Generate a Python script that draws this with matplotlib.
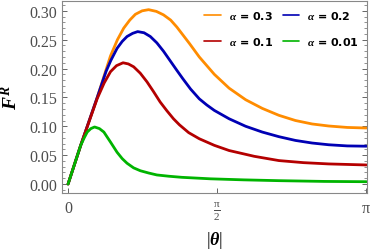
import numpy as np
import matplotlib
matplotlib.use("Agg")
import matplotlib.pyplot as plt
import matplotlib.ticker as mticker

plt.rcParams['mathtext.fontset'] = 'custom'
plt.rcParams['mathtext.rm'] = 'Liberation Serif'
plt.rcParams['mathtext.it'] = 'Liberation Serif:italic:bold'
plt.rcParams['mathtext.bf'] = 'Liberation Serif:bold'

# curves (theta, F^R)
th_03 = [0, 0.133, 0.307, 0.447, 0.52, 0.586, 0.65, 0.709, 0.78, 0.848, 0.93, 1.005,
         1.08, 1.145, 1.173, 1.28, 1.382, 1.54, 1.696, 1.87, 2.045, 2.22, 2.394,
         2.57, 2.744, 2.94, np.pi]
F_03 = [0, 0.067, 0.150, 0.222, 0.250, 0.270, 0.284, 0.294, 0.300, 0.302, 0.299, 0.293,
        0.284, 0.272, 0.266, 0.243, 0.220, 0.190, 0.166, 0.146, 0.131, 0.119, 0.110,
        0.104, 0.1005, 0.098, 0.097]

th_02 = [0, 0.133, 0.307, 0.40, 0.45, 0.516, 0.57, 0.621, 0.68, 0.733, 0.80, 0.866,
         0.935, 1.005, 1.075, 1.145, 1.208, 1.29, 1.382, 1.46, 1.54, 1.696, 1.87, 2.045,
         2.22, 2.394, 2.57, 2.744, 2.94, np.pi]
F_02 = [0, 0.067, 0.150, 0.195, 0.214, 0.235, 0.247, 0.2555, 0.261, 0.264, 0.262, 0.2555,
        0.2445, 0.230, 0.2135, 0.197, 0.1825, 0.1645, 0.1475, 0.137, 0.1275, 0.113, 0.100,
        0.090, 0.082, 0.0755, 0.071, 0.068, 0.066, 0.0655]

th_01 = [0, 0.133, 0.307, 0.38, 0.447, 0.51, 0.579, 0.635, 0.691, 0.76, 0.831, 0.90,
         0.970, 1.04, 1.110, 1.173, 1.27, 1.382, 1.54, 1.696, 1.96, 2.22, 2.48,
         2.744, np.pi]
F_01 = [0, 0.067, 0.148, 0.175, 0.1946, 0.205, 0.210, 0.208, 0.203, 0.192, 0.177, 0.160,
        0.142, 0.127, 0.113, 0.1025, 0.089, 0.0784, 0.067, 0.058, 0.048, 0.0406, 0.037,
        0.0348, 0.033]

th_001 = [0, 0.133, 0.17, 0.202, 0.24, 0.279, 0.33, 0.377, 0.447, 0.516, 0.57, 0.621,
          0.69, 0.761, 0.85, 0.935, 1.06, 1.197, 1.5, 1.85, 2.22, 2.7, np.pi]
F_001 = [0, 0.067, 0.080, 0.090, 0.096, 0.0988, 0.096, 0.090, 0.0726, 0.055, 0.044, 0.036,
         0.028, 0.023, 0.019, 0.0157, 0.0135, 0.0116, 0.0090, 0.0072, 0.0058, 0.0045, 0.004]

alphas = ['0.3', '0.2', '0.1', '0.01']
colors = ['#ff8c00', '#0000b4', '#b40000', '#00b400']
curves = [(th_03, F_03), (th_02, F_02), (th_01, F_01), (th_001, F_001)]

fig = plt.figure(figsize=(3.74, 2.51), dpi=100, facecolor='w')
ax = fig.add_axes([0.166, 0.227, 0.815, 0.765])
lines = []
for (th, F), c, a in zip(curves, colors, alphas):
    ln, = ax.plot(th, F, color=c, lw=2.0, label=r'$\alpha$ = ' + a,
                  solid_joinstyle='round', solid_capstyle='round')
    lines.append(ln)

ax.set_xlim(-0.063, np.pi + 0.005)
ax.set_ylim(-0.0156, 0.317)
ax.set_xticks([0, np.pi/2, np.pi])
ax.set_xticklabels(['0', r'$\frac{\mathrm{\pi}}{2}$', r'$\mathrm{\pi}$'])
ax.yaxis.set_major_locator(mticker.MultipleLocator(0.05))
ax.yaxis.set_minor_locator(mticker.MultipleLocator(0.01))
ax.yaxis.set_major_formatter(mticker.FormatStrFormatter('%.2f'))
for sp in ax.spines.values():
    sp.set_color('#888888')
ax.tick_params(axis='both', which='both', direction='in', colors='#666666',
               labelcolor='#4d4d4d', labelsize=11.5)
ax.tick_params(axis='y', which='both', right=True)
ax.tick_params(which='major', length=3.5, width=0.7)
ax.tick_params(which='minor', length=2, width=0.5)
for t in ax.get_xticklabels() + ax.get_yticklabels():
    t.set_family('Liberation Serif')
ax.tick_params(axis='x', pad=5)

ax.set_ylabel(r'$F^R$', fontsize=14, labelpad=6)
ax.set_xlabel(r'$|\theta|$', fontsize=13, labelpad=5)

# column-wise fill: 0.3 / 0.1 in first column, 0.2 / 0.01 in second
order = [0, 2, 1, 3]
leg = ax.legend([lines[i] for i in order], [lines[i].get_label() for i in order],
                loc='upper right', ncol=2, frameon=False,
                handlelength=1.5, labelspacing=1.3, columnspacing=0.9,
                handletextpad=0.7, borderaxespad=0.3,
                prop={'weight': 'bold', 'size': 8})
for h in leg.get_lines():
    h.set_linewidth(1.2)

fig.savefig('out.png', dpi=100)
